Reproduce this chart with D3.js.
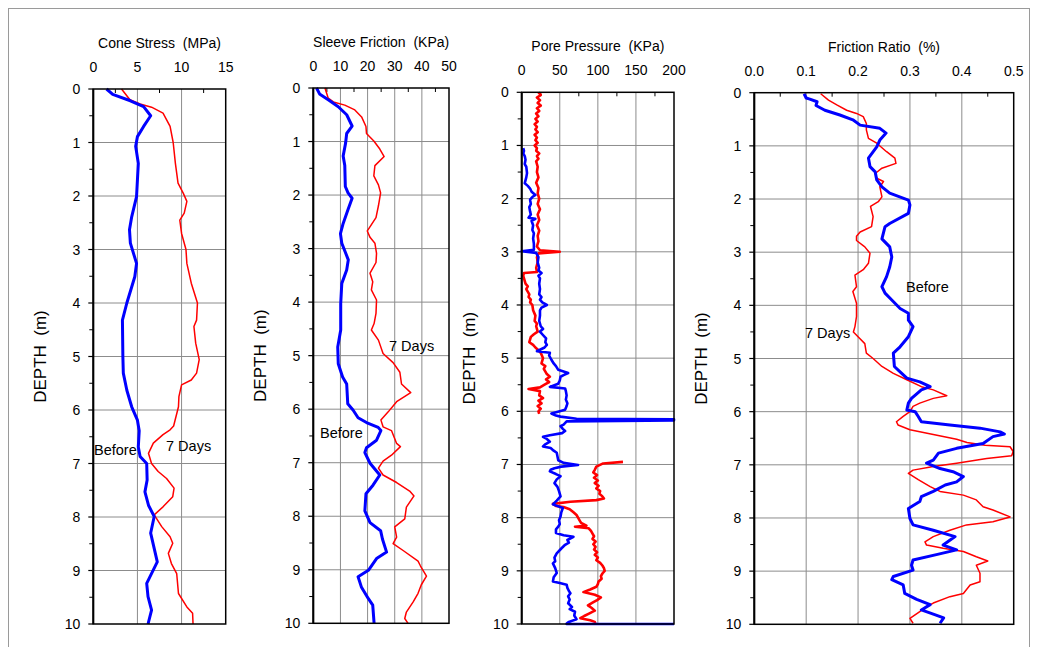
<!DOCTYPE html>
<html><head><meta charset="utf-8">
<script src="https://cdn.jsdelivr.net/npm/d3@7"></script>
<style>body{margin:0;background:#fff}svg{display:block}text{font-family:Arial,"Liberation Sans",sans-serif;fill:#000;white-space:pre}</style>
</head><body><svg id="c" width="1038" height="647"></svg>
<script>
// ---------- DATA ----------
const depthTicks = [0,1,2,3,4,5,6,7,8,9,10];
const coneTicks = [0,5,10,15];
const sleeveTicks = [0,10,20,30,40,50];
const poreTicks = [0,50,100,150,200];
const ratioTicks = [0,0.1,0.2,0.3,0.4,0.5];
const titles = ["Cone Stress  (MPa)","Sleeve Friction  (KPa)","Pore Pressure  (KPa)","Friction Ratio  (%)"];
const depthLabel = "DEPTH  (m)";

// [depth (m), value]
const coneBefore = [[0,1.5],[0.1,2.2],[0.22,4.2],[0.33,5.7],[0.5,6.5],[0.7,5.7],[0.89,5.0],[1.07,4.8],[1.39,5.1],[1.7,5.0],[2.01,4.9],[2.39,4.35],[2.63,4.1],[2.88,4.2],[3.26,4.9],[3.51,4.7],[4.0,3.8],[4.32,3.3],[5.0,3.35],[5.31,3.4],[5.63,3.8],[5.94,4.35],[6.19,5.0],[6.39,5.2],[6.69,5.1],[6.87,5.3],[7.0,6.05],[7.31,6.1],[7.53,5.85],[7.78,6.25],[7.99,6.9],[8.3,6.5],[8.84,7.25],[9.24,6.05],[9.49,6.2],[9.74,6.6],[10.0,6.2]];
const coneAfter = [[0,3.2],[0.2,4.15],[0.28,5.3],[0.34,6.6],[0.45,7.9],[0.7,8.7],[1.0,9.05],[1.39,9.3],[1.76,9.6],[1.95,10.2],[2.1,10.6],[2.32,10.3],[2.45,9.8],[2.7,10.0],[3.0,10.5],[3.26,10.6],[3.63,11.1],[4.0,11.8],[4.32,11.7],[4.44,11.4],[4.75,11.6],[5.06,12.0],[5.31,11.7],[5.44,11.1],[5.53,10.0],[5.75,9.7],[5.94,9.65],[6.3,9.1],[6.37,8.7],[6.46,7.9],[6.62,6.8],[6.81,6.25],[7.0,6.6],[7.15,7.35],[7.28,8.3],[7.46,9.15],[7.62,9.0],[7.81,7.9],[7.96,6.9],[8.18,7.75],[8.37,8.7],[8.49,9.0],[8.68,8.5],[8.87,8.85],[9.06,9.45],[9.43,9.65],[9.68,10.6],[9.8,11.25],[10.0,11.3]];

const sleeveBefore = [[0,1.2],[0.11,2.3],[0.22,5.5],[0.35,9.2],[0.5,12.3],[0.71,14.3],[0.85,12.3],[1.03,11.9],[1.27,11.0],[1.45,11.6],[1.84,11.8],[1.96,12.8],[2.06,14.3],[2.27,12.8],[2.53,11.0],[2.72,10.0],[2.9,10.5],[3.21,12.9],[3.4,12.3],[3.65,10.5],[4.03,10.1],[4.52,10.1],[4.84,9.0],[5.15,9.2],[5.4,10.8],[5.53,12.3],[5.9,12.7],[6.02,14.7],[6.16,16.5],[6.25,19.6],[6.34,23.9],[6.4,24.9],[6.58,23.3],[6.72,19.6],[6.81,19.0],[7.01,20.9],[7.23,24.5],[7.42,22.0],[7.58,19.4],[7.9,19.0],[8.12,20.9],[8.27,24.8],[8.43,25.5],[8.67,27.0],[8.79,23.3],[9.01,20.3],[9.13,16.5],[9.32,17.7],[9.54,20.3],[9.66,21.9],[10.0,22.4]];
const sleeveAfter = [[0,4.3],[0.19,5.5],[0.26,7.4],[0.32,11.6],[0.41,15.3],[0.54,17.8],[0.72,19.4],[0.85,19.6],[0.99,22.3],[1.14,24.5],[1.28,26.1],[1.45,22.7],[1.64,22.3],[1.81,24.0],[1.96,24.8],[2.2,24.0],[2.42,23.1],[2.67,19.9],[2.79,20.9],[2.9,22.7],[3.09,23.3],[3.26,23.1],[3.46,20.9],[3.62,21.9],[3.77,21.4],[3.96,23.3],[4.21,23.1],[4.4,22.4],[4.52,21.4],[4.71,24.0],[4.96,25.7],[5.13,29.4],[5.31,31.9],[5.53,32.5],[5.69,35.9],[5.86,30.7],[6.05,27.6],[6.2,24.9],[6.33,25.7],[6.4,28.8],[6.64,30.7],[6.7,32.1],[6.86,28.8],[6.97,25.7],[7.1,24.0],[7.23,25.7],[7.37,30.7],[7.53,35.5],[7.62,37.1],[7.83,34.3],[8.05,33.7],[8.2,30.0],[8.39,30.7],[8.51,29.4],[8.64,33.1],[8.84,38.6],[8.93,39.5],[9.12,41.7],[9.28,39.8],[9.44,38.6],[9.6,36.8],[9.79,34.3],[9.91,33.7],[10.0,34.9]];

const poreBefore = [[1.05,2],[1.1,3],[1.15,2],[1.2,4],[1.27,5],[1.35,4],[1.4,6],[1.52,7],[1.6,6],[1.71,4],[1.76,8],[1.81,11],[1.87,13],[1.93,18],[1.97,14],[2.02,11],[2.1,12],[2.16,10],[2.24,11],[2.3,12],[2.36,9],[2.38,18],[2.42,13],[2.5,15],[2.59,14],[2.65,16],[2.75,15],[2.85,16],[2.96,16],[2.99,0],[3.02,19],[3.05,20],[3.1,22],[3.2,21],[3.3,23],[3.35,22],[3.4,26],[3.45,22],[3.5,24],[3.6,23],[3.7,24],[3.8,23],[3.85,26],[3.9,24],[3.95,27],[4.0,33],[4.05,26],[4.1,24],[4.2,24],[4.3,23],[4.4,25],[4.45,28],[4.5,24],[4.55,27],[4.63,32],[4.7,31],[4.75,33],[4.8,30],[4.87,20],[4.9,37],[4.95,36],[5.03,39],[5.1,42],[5.15,45],[5.22,48],[5.28,61],[5.32,55],[5.35,51],[5.42,50],[5.48,48],[5.54,37],[5.57,57],[5.62,58],[5.7,59],[5.78,58],[5.85,60],[5.9,59],[5.97,57],[6.02,44],[6.04,39],[6.08,45],[6.1,51],[6.14,72],[6.15,200],[6.17,200],[6.19,59],[6.25,55],[6.28,51],[6.33,54],[6.37,57],[6.41,53],[6.45,37],[6.48,28],[6.52,33],[6.57,37],[6.62,31],[6.66,28],[6.69,38],[6.74,42],[6.78,46],[6.85,47],[6.92,48],[6.97,55],[7.01,74],[7.04,52],[7.07,43],[7.1,38],[7.13,37],[7.18,45],[7.22,51],[7.28,46],[7.35,43],[7.42,47],[7.5,49],[7.6,51],[7.68,46],[7.75,41],[7.82,54],[7.9,52],[7.98,51],[8.05,49],[8.12,50],[8.17,48],[8.22,45],[8.29,45],[8.33,55],[8.36,68],[8.42,60],[8.47,62],[8.51,57],[8.58,52],[8.67,46],[8.75,43],[8.82,44],[8.86,41],[8.95,44],[9.04,46],[9.12,42],[9.2,41],[9.23,50],[9.26,59],[9.32,60],[9.38,62],[9.42,64],[9.48,61],[9.54,63],[9.61,61],[9.68,66],[9.72,63],[9.77,70],[9.84,69],[9.91,72],[9.96,62],[9.99,59],[10.0,59],[10.0,200]];
const poreAfterShallow = [[0,22],[0.05,25],[0.1,20],[0.15,24],[0.2,21],[0.25,25],[0.3,20],[0.35,23],[0.4,19],[0.45,22],[0.5,18],[0.55,21],[0.6,17],[0.65,20],[0.7,18],[0.75,21],[0.8,17],[0.85,20],[0.9,18],[0.95,21],[1.0,17],[1.05,20],[1.1,19],[1.15,23],[1.2,20],[1.25,22],[1.3,19],[1.4,21],[1.5,20],[1.6,22],[1.7,19],[1.8,22],[1.9,21],[2.0,23],[2.1,21],[2.2,24],[2.3,21],[2.4,23],[2.5,20],[2.6,23],[2.7,21],[2.8,22],[2.9,20],[2.97,24],[3.0,50],[3.03,22],[3.1,20],[3.2,21],[3.3,19],[3.38,20],[3.4,3],[3.45,2],[3.5,3],[3.6,5],[3.65,8],[3.7,6],[3.8,10],[3.85,9],[3.9,12],[3.95,11],[4.0,14],[4.1,15],[4.2,18],[4.3,17],[4.35,20],[4.4,19],[4.5,21],[4.55,16],[4.6,12],[4.7,10],[4.75,15],[4.8,18],[4.85,22],[4.9,25],[5.0,28],[5.1,26],[5.15,31],[5.2,29],[5.3,33],[5.35,37],[5.4,32],[5.45,36],[5.5,30],[5.55,24],[5.58,9],[5.62,24],[5.7,23],[5.75,28],[5.8,22],[5.85,26],[5.9,21],[5.95,25],[6.0,22],[6.05,23]];
const poreAfterDeep = [[6.95,133],[6.98,107],[7.04,98],[7.1,96],[7.15,94],[7.2,99],[7.25,95],[7.3,100],[7.35,96],[7.4,101],[7.45,98],[7.5,103],[7.55,102],[7.6,106],[7.64,108],[7.67,98],[7.7,64],[7.74,41],[7.78,45],[7.8,55],[7.84,63],[7.9,68],[7.95,72],[8.0,74],[8.05,76],[8.1,78],[8.15,85],[8.17,70],[8.2,88],[8.25,91],[8.3,93],[8.35,95],[8.4,93],[8.45,97],[8.5,94],[8.55,97],[8.6,95],[8.65,99],[8.7,96],[8.75,100],[8.8,98],[8.85,103],[8.9,106],[8.95,108],[9.0,109],[9.05,106],[9.1,104],[9.15,105],[9.2,101],[9.25,100],[9.3,98],[9.35,90],[9.4,81],[9.45,96],[9.5,104],[9.55,99],[9.6,93],[9.65,87],[9.7,92],[9.75,96],[9.8,89],[9.85,82],[9.89,77],[9.93,90],[9.96,96],[10.0,97]];

const ratioBefore = [[0.02,0.096],[0.1,0.1],[0.12,0.107],[0.17,0.121],[0.24,0.119],[0.33,0.136],[0.42,0.165],[0.51,0.19],[0.61,0.204],[0.67,0.242],[0.76,0.254],[0.89,0.242],[1.02,0.236],[1.23,0.22],[1.39,0.223],[1.49,0.233],[1.64,0.236],[1.77,0.246],[1.89,0.261],[2.02,0.297],[2.11,0.3],[2.27,0.297],[2.46,0.261],[2.52,0.252],[2.75,0.246],[2.9,0.261],[3.09,0.265],[3.28,0.261],[3.46,0.255],[3.65,0.246],[3.77,0.252],[3.9,0.265],[4.06,0.281],[4.15,0.297],[4.28,0.297],[4.4,0.306],[4.59,0.297],[4.78,0.281],[4.9,0.268],[5.15,0.27],[5.25,0.281],[5.37,0.294],[5.44,0.319],[5.53,0.339],[5.59,0.322],[5.75,0.303],[5.84,0.297],[5.97,0.294],[6.0,0.31],[6.09,0.316],[6.19,0.322],[6.25,0.377],[6.31,0.435],[6.38,0.474],[6.42,0.482],[6.47,0.46],[6.6,0.441],[6.69,0.39],[6.78,0.355],[6.91,0.345],[6.97,0.332],[7.07,0.358],[7.13,0.383],[7.22,0.403],[7.32,0.39],[7.38,0.368],[7.5,0.345],[7.6,0.322],[7.69,0.319],[7.82,0.297],[8.01,0.3],[8.13,0.306],[8.23,0.345],[8.35,0.387],[8.51,0.364],[8.6,0.39],[8.69,0.351],[8.79,0.306],[8.89,0.303],[8.98,0.306],[9.1,0.268],[9.16,0.265],[9.26,0.287],[9.42,0.29],[9.53,0.313],[9.63,0.339],[9.73,0.322],[9.81,0.345],[9.88,0.365],[9.98,0.358]];
const ratioAfter = [[0.02,0.128],[0.14,0.143],[0.23,0.159],[0.33,0.178],[0.39,0.197],[0.45,0.21],[0.58,0.216],[0.7,0.216],[0.86,0.22],[0.95,0.236],[1.11,0.255],[1.23,0.271],[1.33,0.273],[1.42,0.246],[1.52,0.233],[1.61,0.236],[1.67,0.249],[1.77,0.242],[1.96,0.246],[2.05,0.239],[2.14,0.224],[2.33,0.229],[2.52,0.226],[2.62,0.204],[2.7,0.197],[2.78,0.197],[2.9,0.213],[3.02,0.223],[3.21,0.22],[3.33,0.21],[3.43,0.194],[3.65,0.197],[3.74,0.19],[3.96,0.197],[4.21,0.197],[4.4,0.194],[4.5,0.191],[4.59,0.2],[4.72,0.213],[4.9,0.216],[5.0,0.229],[5.15,0.246],[5.28,0.268],[5.4,0.294],[5.53,0.322],[5.59,0.345],[5.7,0.371],[5.75,0.345],[5.84,0.319],[5.9,0.306],[6.0,0.3],[6.09,0.287],[6.19,0.274],[6.25,0.277],[6.34,0.3],[6.43,0.345],[6.52,0.39],[6.58,0.41],[6.63,0.445],[6.66,0.493],[6.75,0.499],[6.83,0.496],[6.88,0.448],[6.97,0.39],[7.03,0.345],[7.1,0.306],[7.16,0.297],[7.28,0.316],[7.41,0.339],[7.5,0.358],[7.57,0.403],[7.66,0.428],[7.79,0.441],[7.85,0.46],[7.98,0.493],[8.07,0.46],[8.13,0.409],[8.23,0.377],[8.35,0.345],[8.45,0.329],[8.51,0.332],[8.57,0.364],[8.63,0.403],[8.73,0.428],[8.81,0.45],[8.89,0.428],[9.04,0.435],[9.2,0.435],[9.26,0.416],[9.42,0.403],[9.48,0.377],[9.6,0.345],[9.67,0.332],[9.76,0.319],[9.89,0.3],[9.98,0.306]];

// ---------- LAYOUT ----------
const svg = d3.select("#c");
svg.append("rect").attr("x",8.5).attr("y",8.5).attr("width",1021).attr("height",660)
  .attr("fill","none").attr("stroke","#9a9a9a").attr("stroke-width",1);

const panels = [
  {x0:93.3,x1:225.7,y0:89,y1:624,max:15,ticks:coneTicks,minor:2.5,fmt:d3.format("d"),title:titles[0],
   series:[{d:coneAfter,c:"#ff0000",w:1.5},{d:coneBefore,c:"#0000ff",w:3}],
   labels:[{t:"Before",x:94,y:455},{t:"7 Days",x:166,y:451}]},
  {x0:313.3,x1:449,y0:88,y1:623.3,max:50,ticks:sleeveTicks,minor:5,fmt:d3.format("d"),title:titles[1],
   series:[{d:sleeveAfter,c:"#ff0000",w:1.5},{d:sleeveBefore,c:"#0000ff",w:3}],
   labels:[{t:"7 Days",x:389,y:351},{t:"Before",x:320,y:438}]},
  {x0:521.7,x1:674,y0:92.3,y1:624,max:200,ticks:poreTicks,minor:25,fmt:d3.format("d"),title:titles[2],
   series:[{d:poreAfterShallow,c:"#ff0000",w:2.6},{d:poreAfterDeep,c:"#ff0000",w:2.6},{d:poreBefore,c:"#0000ff",w:2.6}],
   labels:[]},
  {x0:754.3,x1:1013.7,y0:92.7,y1:624.3,max:0.5,ticks:ratioTicks,minor:0.05,fmt:d3.format(".1f"),title:titles[3],
   series:[{d:ratioAfter,c:"#ff0000",w:1.5},{d:ratioBefore,c:"#0000ff",w:3}],
   labels:[{t:"Before",x:906,y:292},{t:"7 Days",x:805,y:338}]}
];

panels.forEach(p=>{
  const g = svg.append("g");
  const xs = d3.scaleLinear().domain([0,p.max]).range([p.x0,p.x1]);
  const ys = d3.scaleLinear().domain([0,10]).range([p.y0,p.y1]);
  g.selectAll(".vg").data(p.ticks.slice(1,-1)).join("line")
    .attr("x1",d=>xs(d)).attr("x2",d=>xs(d)).attr("y1",p.y0).attr("y2",p.y1)
    .attr("stroke","#8c8c8c").attr("stroke-width",1);
  g.selectAll(".hg").data(depthTicks.slice(1,-1)).join("line")
    .attr("x1",p.x0).attr("x2",p.x1).attr("y1",d=>ys(d)).attr("y2",d=>ys(d))
    .attr("stroke","#8c8c8c").attr("stroke-width",1);
  const minors = d3.range(p.minor,p.max,p.minor*2);
  g.selectAll(".mt").data(minors).join("line")
    .attr("x1",d=>xs(d)).attr("x2",d=>xs(d)).attr("y1",p.y0).attr("y2",p.y0+4)
    .attr("stroke","#000").attr("stroke-width",1);
  const ymin = d3.range(0.5,10,1);
  g.selectAll(".ymt").data(ymin).join("line")
    .attr("x1",p.x0-4).attr("x2",p.x0).attr("y1",d=>ys(d)).attr("y2",d=>ys(d))
    .attr("stroke","#000").attr("stroke-width",1);
  g.selectAll(".yMt").data(depthTicks).join("line")
    .attr("x1",p.x0-5).attr("x2",p.x0).attr("y1",d=>ys(d)).attr("y2",d=>ys(d))
    .attr("stroke","#000").attr("stroke-width",1.2);
  g.selectAll(".xl").data(p.ticks).join("text")
    .attr("x",d=>xs(d)).attr("y",p.y0-17).attr("text-anchor","middle")
    .attr("font-size",14).text(p.fmt);
  g.selectAll(".yl").data(depthTicks).join("text")
    .attr("x",p.x0-13).attr("y",d=>ys(d)+5).attr("text-anchor","end")
    .attr("font-size",14).text(d=>d);
  g.append("text").attr("x",(p.x0+p.x1)/2).attr("y",p.y0-41).attr("text-anchor","middle")
    .attr("font-size",14).text(p.title);
  g.append("text").attr("transform",`translate(${p.x0-47},${(p.y0+p.y1)/2}) rotate(-90)`)
    .attr("text-anchor","middle").attr("font-size",17).text(depthLabel);
  const line = d3.line().x(d=>xs(d[1])).y(d=>ys(d[0]));
  p.series.forEach(s=>{
    g.append("path").attr("d",line(s.d)).attr("fill","none").attr("stroke",s.c)
      .attr("stroke-width",s.w).attr("stroke-linejoin","round");
  });
  g.append("rect").attr("x",p.x0).attr("y",p.y0).attr("width",p.x1-p.x0).attr("height",p.y1-p.y0)
    .attr("fill","none").attr("stroke","#000").attr("stroke-width",1.5);
  g.append("line").attr("x1",p.x0).attr("x2",p.x0).attr("y1",p.y0).attr("y2",p.y1)
    .attr("stroke","#000").attr("stroke-width",2);
  g.selectAll(".an").data(p.labels).join("text")
    .attr("x",d=>d.x).attr("y",d=>d.y).attr("font-size",14.5).text(d=>d.t);
});
</script></body></html>
